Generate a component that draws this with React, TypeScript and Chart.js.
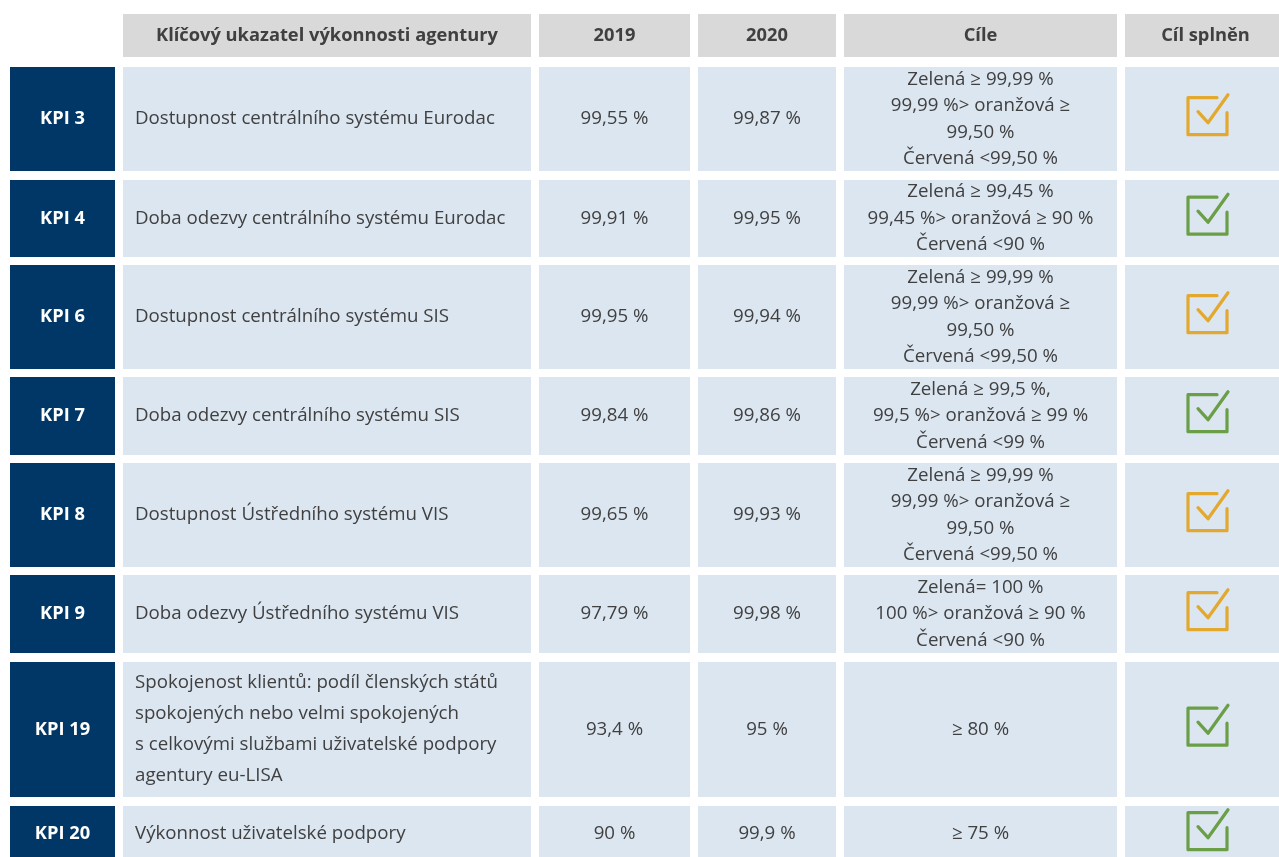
import React, { useEffect, useRef } from "react";
import { Chart, registerables } from "chart.js";

Chart.register(...registerables);

// ---------- data ----------
const headers = ["", "Klíčový ukazatel výkonnosti agentury", "2019", "2020", "Cíle", "Cíl splněn"];
const kpiLabels = ["KPI 3", "KPI 4", "KPI 6", "KPI 7", "KPI 8", "KPI 9", "KPI 19", "KPI 20"];
const indicators = [
  ["Dostupnost centrálního systému Eurodac"],
  ["Doba odezvy centrálního systému Eurodac"],
  ["Dostupnost centrálního systému SIS"],
  ["Doba odezvy centrálního systému SIS"],
  ["Dostupnost Ústředního systému VIS"],
  ["Doba odezvy Ústředního systému VIS"],
  [
    "Spokojenost klientů: podíl členských států",
    "spokojených nebo velmi spokojených",
    "s celkovými službami uživatelské podpory",
    "agentury eu-LISA",
  ],
  ["Výkonnost uživatelské podpory"],
];
const values2019 = [99.55, 99.91, 99.95, 99.84, 99.65, 97.79, 93.4, 90];
const values2020 = [99.87, 99.95, 99.94, 99.86, 99.93, 99.98, 95, 99.9];
const targets = [
  ["Zelená ≥ 99,99 %", "99,99 %> oranžová ≥", "99,50 %", "Červená <99,50 %"],
  ["Zelená ≥ 99,45 %", "99,45 %> oranžová ≥ 90 %", "Červená <90 %"],
  ["Zelená ≥ 99,99 %", "99,99 %> oranžová ≥", "99,50 %", "Červená <99,50 %"],
  ["Zelená ≥ 99,5 %,", "99,5 %> oranžová ≥ 99 %", "Červená <99 %"],
  ["Zelená ≥ 99,99 %", "99,99 %> oranžová ≥", "99,50 %", "Červená <99,50 %"],
  ["Zelená= 100 %", "100 %> oranžová ≥ 90 %", "Červená <90 %"],
  ["≥ 80 %"],
  ["≥ 75 %"],
];
const goalStatus = ["amber", "green", "amber", "green", "amber", "amber", "green", "green"];

// ---------- layout (scale units) ----------
const W = 1279;
const H = 857;
const COLS: [number, number][] = [
  [10, 115],
  [123, 531],
  [539, 690],
  [698, 836],
  [844, 1117],
  [1125, 1286],
];
const HEADER_ROW: [number, number] = [14, 57];
const ROWS: [number, number][] = [
  [67, 171],
  [180, 257],
  [265, 369],
  [377, 455],
  [463, 567],
  [575, 653],
  [662, 797],
  [806, 862],
];

// ---------- styles ----------
const FONT = "'Open Sans', 'Noto Sans', sans-serif";
const C_HEADER = "#d9d9d9";
const C_CELL = "#dce6f1";
const C_KPI = "#003767";
const C_TEXT = "#404040";
const C_AMBER = "#e3a92f";
const C_GREEN = "#6b9f47";

const fmt = (v: number) => String(v).replace(".", ",") + " %";

function drawCheck(ctx: CanvasRenderingContext2D, cx: number, cy: number, color: string) {
  ctx.save();
  ctx.strokeStyle = color;
  ctx.lineWidth = 3.2;
  ctx.lineJoin = "round";
  ctx.lineCap = "round";
  const x0 = cx - 19.5, x1 = cx + 19.5, y0 = cy - 18.5, y1 = cy + 18.5;
  ctx.beginPath();
  ctx.moveTo(cx + 9.5, y0);
  ctx.lineTo(x0, y0);
  ctx.lineTo(x0, y1);
  ctx.lineTo(x1, y1);
  ctx.lineTo(x1, cy - 3.5);
  ctx.stroke();
  ctx.beginPath();
  ctx.moveTo(cx - 9.5, cy - 4.5);
  ctx.lineTo(cx + 0.5, cy + 6.5);
  ctx.lineTo(cx + 20.5, cy - 21.5);
  ctx.stroke();
  ctx.restore();
}

const tablePlugin = {
  id: "kpiTable",
  afterDraw(chart: any) {
    const ctx: CanvasRenderingContext2D = chart.ctx;
    const xs = chart.scales.x;
    const ys = chart.scales.y;
    const px = (v: number) => xs.getPixelForValue(v);
    const py = (v: number) => ys.getPixelForValue(v);
    const rect = (c: [number, number], r: [number, number], color: string) => {
      ctx.fillStyle = color;
      const x = Math.round(px(c[0]));
      const y = Math.round(py(r[0]));
      ctx.fillRect(x, y, Math.round(px(c[1])) - x, Math.round(py(r[1])) - y);
    };
    const cx = (c: [number, number]) => (px(c[0]) + px(c[1])) / 2;
    const cy = (r: [number, number]) => (py(r[0]) + py(r[1])) / 2;

    ctx.save();
    ctx.textBaseline = "middle";

    // header
    headers.forEach((h, i) => {
      if (!h) return;
      rect(COLS[i], HEADER_ROW, C_HEADER);
      ctx.fillStyle = C_TEXT;
      ctx.font = `bold 18.3px ${FONT}`;
      ctx.textAlign = "center";
      ctx.fillText(h, cx(COLS[i]), cy(HEADER_ROW));
    });

    // body
    kpiLabels.forEach((lab, r) => {
      const row = ROWS[r];
      const mid = cy(row);
      rect(COLS[0], row, C_KPI);
      for (let c = 1; c < COLS.length; c++) rect(COLS[c], row, C_CELL);

      ctx.textAlign = "center";
      ctx.fillStyle = "#ffffff";
      ctx.font = `bold 18.3px ${FONT}`;
      ctx.fillText(lab, cx(COLS[0]), mid);

      ctx.fillStyle = C_TEXT;
      ctx.font = `18.7px ${FONT}`;
      // indicator text (left aligned)
      ctx.textAlign = "left";
      const lines = indicators[r];
      const lh1 = 31;
      lines.forEach((t, k) => {
        ctx.fillText(t, px(COLS[1][0]) + 12, mid + (k - (lines.length - 1) / 2) * lh1);
      });

      ctx.textAlign = "center";
      ctx.fillText(fmt(values2019[r]), cx(COLS[2]), mid);
      ctx.fillText(fmt(values2020[r]), cx(COLS[3]), mid);

      const tl = targets[r];
      const lh2 = 26.4;
      tl.forEach((t, k) => {
        ctx.fillText(t, cx(COLS[4]), mid + (k - (tl.length - 1) / 2) * lh2);
      });

      drawCheck(ctx, cx(COLS[5]) + 2, mid - 2.8, goalStatus[r] === "green" ? C_GREEN : C_AMBER);
    });
    ctx.restore();
  },
};

export default function App() {
  const ref = useRef<HTMLCanvasElement | null>(null);
  useEffect(() => {
    document.body.style.margin = "0";
    document.body.style.background = "#ffffff";
    const canvas = ref.current;
    if (!canvas) return;
    const chart = new Chart(canvas, {
      type: "scatter",
      data: { datasets: [] },
      options: {
        animation: false,
        responsive: false,
        devicePixelRatio: 1,
        layout: { padding: 0 },
        plugins: { legend: { display: false }, tooltip: { enabled: false }, title: { display: false } },
        scales: {
          x: { type: "linear", min: 0, max: W, display: false },
          y: { type: "linear", min: 0, max: H, reverse: true, display: false },
        },
      },
      plugins: [tablePlugin],
    });
    return () => chart.destroy();
  }, []);
  return (
    <div style={{ width: W, height: H, background: "#fff" }}>
      <canvas ref={ref} width={W} height={H} style={{ display: "block", width: W, height: H }} />
    </div>
  );
}
